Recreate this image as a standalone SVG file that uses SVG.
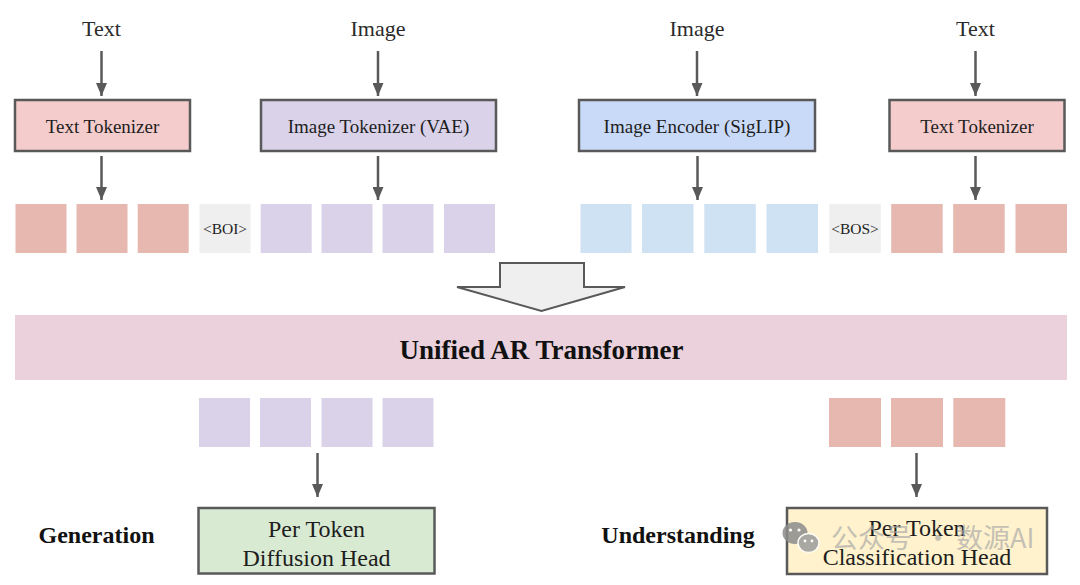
<svg xmlns="http://www.w3.org/2000/svg" width="1080" height="585" viewBox="0 0 1080 585">
<defs>
<style>
.lbl{font-family:"Liberation Serif","Times New Roman",serif;font-size:22px;fill:#2b2b2b;text-anchor:middle}
.bt{font-family:"Liberation Serif","Times New Roman",serif;font-size:19px;fill:#1e1e1e;text-anchor:middle}
.ht{font-family:"Liberation Serif","Times New Roman",serif;font-size:24px;fill:#1e1e1e;text-anchor:middle}
.bold{font-family:"Liberation Serif","Times New Roman",serif;font-size:24px;font-weight:bold;fill:#111;text-anchor:middle}
.sp{font-family:"Liberation Serif","Times New Roman",serif;font-size:15.5px;fill:#222;text-anchor:middle}
.box{stroke:#595959;stroke-width:2.5}
.pinkbox{fill:#f4cccc}
.lavbox{fill:#d9d2e9}
.bluebox{fill:#c9daf8}
.red{fill:#e6b8af}
.pur{fill:#d9d2e9}
.blu{fill:#cfe2f3}
.gry{fill:#efefef}
.conn{stroke:#595959;stroke-width:2.5;fill:none;marker-end:url(#ah)}
.wm{font-family:"Noto Sans CJK SC","Noto Sans",sans-serif;font-size:27px;fill:#a8a8a8;fill-opacity:0.8}
</style>
<marker id="ah" viewBox="0 0 13 11" refX="13" refY="5.5" markerWidth="13" markerHeight="11" markerUnits="userSpaceOnUse" orient="auto">
<path d="M0,0 L13,5.5 L0,11 z" fill="#595959"/>
</marker>
</defs>
<rect width="1080" height="585" fill="#ffffff"/>

<g id="labels-top">
<text class="lbl" x="101.5" y="36">Text</text>
<text class="lbl" x="378" y="36">Image</text>
<text class="lbl" x="697" y="36">Image</text>
<text class="lbl" x="975.5" y="36">Text</text>
</g>

<g id="text-tokenizer-1">
<rect class="box pinkbox" x="15" y="100" width="175" height="51"/>
<text class="bt" x="102.5" y="132.5">Text Tokenizer</text>
</g>
<g id="image-tokenizer-vae">
<rect class="box lavbox" x="261" y="100" width="235" height="51"/>
<text class="bt" x="378.5" y="132.5">Image Tokenizer (VAE)</text>
</g>
<g id="image-encoder-siglip">
<rect class="box bluebox" x="579" y="100" width="236" height="51"/>
<text class="bt" x="697" y="132.5">Image Encoder (SigLIP)</text>
</g>
<g id="text-tokenizer-2">
<rect class="box pinkbox" x="889.5" y="100" width="175" height="51"/>
<text class="bt" x="977" y="132.5">Text Tokenizer</text>
</g>

<g id="tokens-left">
<rect class="red" x="15.5" y="204" width="51" height="49"/>
<rect class="red" x="76.5" y="204" width="51" height="49"/>
<rect class="red" x="137.7" y="204" width="51" height="49"/>
<rect class="gry" x="199.5" y="204" width="51" height="49"/>
<text class="sp" x="225" y="234">&lt;BOI&gt;</text>
<rect class="pur" x="260.7" y="204" width="51" height="49"/>
<rect class="pur" x="321.5" y="204" width="51" height="49"/>
<rect class="pur" x="382.5" y="204" width="51" height="49"/>
<rect class="pur" x="444" y="204" width="51" height="49"/>
</g>

<g id="tokens-right">
<rect class="blu" x="580.5" y="204" width="51" height="49"/>
<rect class="blu" x="642" y="204" width="51.5" height="49"/>
<rect class="blu" x="704.3" y="204" width="51.5" height="49"/>
<rect class="blu" x="766.5" y="204" width="51.5" height="49"/>
<rect class="gry" x="829.3" y="204" width="51.5" height="49"/>
<text class="sp" x="855" y="234">&lt;BOS&gt;</text>
<rect class="red" x="891.2" y="204" width="51.5" height="49"/>
<rect class="red" x="953.2" y="204" width="51.5" height="49"/>
<rect class="red" x="1015.5" y="204" width="51.5" height="49"/>
</g>

<g id="merge-arrow">
<polygon points="500,263 584,263 584,287 625,287 541.5,311 457,287 500,287" fill="#efefef" stroke="#595959" stroke-width="2"/>
</g>

<g id="unified-ar-transformer">
<rect x="15" y="315" width="1052" height="65" fill="#ead1dc"/>
<text x="541.5" y="359" font-family="'Liberation Serif','Times New Roman',serif" font-size="27" font-weight="bold" fill="#111" text-anchor="middle">Unified AR Transformer</text>
</g>

<g id="tokens-generation">
<rect class="pur" x="199" y="398" width="51" height="49"/>
<rect class="pur" x="260" y="398" width="51" height="49"/>
<rect class="pur" x="321.5" y="398" width="51" height="49"/>
<rect class="pur" x="382.5" y="398" width="51" height="49"/>
</g>

<g id="tokens-understanding">
<rect class="red" x="829" y="398" width="52" height="49"/>
<rect class="red" x="891" y="398" width="52" height="49"/>
<rect class="red" x="953.3" y="398" width="52" height="49"/>
</g>

<g id="generation-label">
<text class="bold" x="96.5" y="543">Generation</text>
</g>
<g id="diffusion-head">
<rect class="box" x="198.5" y="508" width="236" height="65.5" fill="#d9ead3"/>
<text class="ht" x="316.5" y="536.5">Per Token</text>
<text class="ht" x="316.5" y="566">Diffusion Head</text>
</g>

<g id="understanding-label">
<text class="bold" x="678" y="543">Understanding</text>
</g>
<g id="classification-head">
<rect class="box" x="787" y="508" width="260" height="66" fill="#fff2cc"/>
<text class="ht" x="917" y="536">Per Token</text>
<text class="ht" x="917" y="565">Classification Head</text>
</g>

<g id="connectors">
<line class="conn" x1="101.5" y1="51" x2="101.5" y2="96"/>
<line class="conn" x1="378" y1="51" x2="378" y2="96"/>
<line class="conn" x1="697" y1="51" x2="697" y2="96"/>
<line class="conn" x1="975.5" y1="51" x2="975.5" y2="96"/>
<line class="conn" x1="101.5" y1="156" x2="101.5" y2="200"/>
<line class="conn" x1="378" y1="156" x2="378" y2="200"/>
<line class="conn" x1="697.5" y1="156" x2="697.5" y2="200"/>
<line class="conn" x1="975.5" y1="156" x2="975.5" y2="200"/>
<line class="conn" x1="317.5" y1="453" x2="317.5" y2="497" stroke-width="2"/>
<line class="conn" x1="916.5" y1="453" x2="916.5" y2="497" stroke-width="2"/>
</g>

<g id="watermark" opacity="0.85">
<ellipse cx="795" cy="533" rx="12.5" ry="11" fill="#8c8c8c"/>
<circle cx="790.5" cy="530" r="1.6" fill="#ffffff"/>
<circle cx="799" cy="530" r="1.6" fill="#ffffff"/>
<ellipse cx="808.5" cy="543" rx="10.5" ry="9.5" fill="#9c9c9c" stroke="#ffffff" stroke-width="1.5"/>
<circle cx="805" cy="541" r="1.4" fill="#ffffff"/>
<circle cx="812" cy="541" r="1.4" fill="#ffffff"/>
<text class="wm" x="831" y="548">公众号</text>
<text class="wm" x="938" y="548" text-anchor="middle">·</text>
<text class="wm" x="956" y="548">数源AI</text>
</g>
</svg>
